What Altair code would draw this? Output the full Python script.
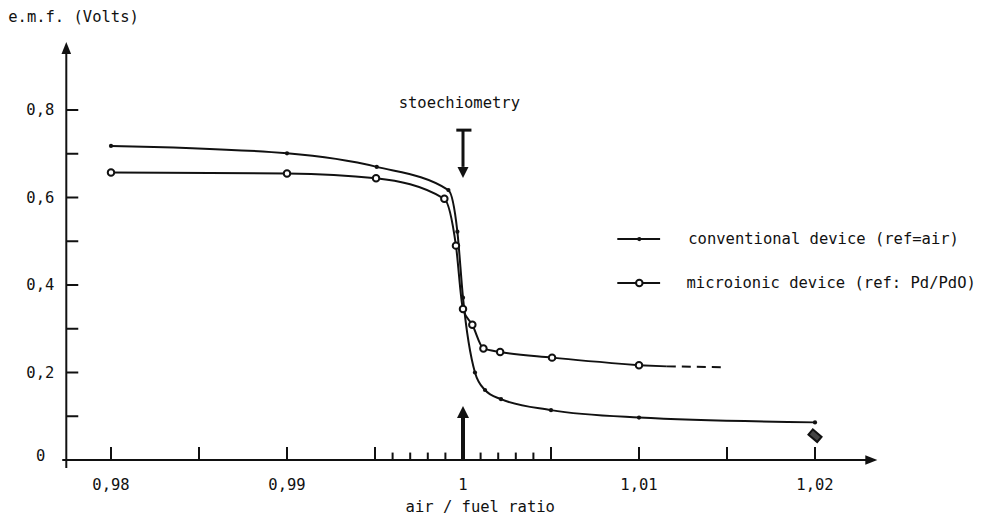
import altair as alt
import pandas as pd

# ---- data ----
conv_x = [0.98, 0.99, 0.9951, 0.99917, 0.99968, 1.0, 1.00068, 1.00125, 1.00216, 1.005, 1.01, 1.02]
conv_y = [0.718, 0.701, 0.670, 0.617, 0.522, 0.371, 0.200, 0.160, 0.139, 0.114, 0.097, 0.086]

micro_x = [0.98, 0.99, 0.99506, 0.99894, 0.9996, 1.0, 1.00053, 1.00116, 1.00211, 1.00506, 1.01]
micro_y = [0.657, 0.655, 0.644, 0.597, 0.490, 0.345, 0.309, 0.255, 0.247, 0.234, 0.2165]

# extrapolated (solid then dashed) tail of the microionic curve
ext_solid_x = [1.01, 1.01158]
ext_solid_y = [0.2165, 0.214]
ext_dash_x = [1.01158, 1.01485]
ext_dash_y = [0.214, 0.2119]

# odd marker under the last conventional point
odd_x = [1.02]
odd_y = [0.0555]

x_major = [0.98, 0.985, 0.99, 0.995, 1.0, 1.005, 1.01, 1.015, 1.02]
x_minor = [0.996, 0.997, 0.998, 0.999, 1.001, 1.002, 1.003, 1.004]
x_label_vals = [0.98, 0.99, 1.0, 1.01, 1.02]
x_label_text = ["0,98", "0,99", "1", "1,01", "1,02"]
y_ticks = [0.1, 0.2, 0.3, 0.4, 0.5, 0.6, 0.7, 0.8]
y_label_vals = [0.2, 0.4, 0.6, 0.8]
y_label_text = ["0,2", "0,4", "0,6", "0,8"]

legend_labels = ["conventional device (ref=air)", "microionic device (ref: Pd/PdO)"]

INK = "#111111"
FONT = "DejaVu Sans Mono"
FS = 15.5

XS = alt.Scale(domain=[0.975, 1.025], nice=False, zero=False)
YS = alt.Scale(domain=[-0.128, 1.0], nice=False, zero=False)


def X(f="x"):
    return alt.X(f"{f}:Q", scale=XS, axis=None)


def Y(f="y"):
    return alt.Y(f"{f}:Q", scale=YS, axis=None)


conv = pd.DataFrame({"x": conv_x, "y": conv_y})
micro = pd.DataFrame({"x": micro_x, "y": micro_y})

conv_line = alt.Chart(conv).mark_line(interpolate="monotone", color=INK, strokeWidth=2).encode(x=X(), y=Y())
conv_pts = alt.Chart(conv).mark_point(filled=True, color=INK, size=18, opacity=1).encode(x=X(), y=Y())
micro_line = alt.Chart(micro).mark_line(interpolate="monotone", color=INK, strokeWidth=2).encode(x=X(), y=Y())
micro_pts = alt.Chart(micro).mark_point(
    shape="circle", filled=True, fill="white", stroke=INK, strokeWidth=2, size=42, opacity=1
).encode(x=X(), y=Y())

ext_solid = alt.Chart(pd.DataFrame({"x": ext_solid_x, "y": ext_solid_y})).mark_line(
    color=INK, strokeWidth=2).encode(x=X(), y=Y())
ext_dash = alt.Chart(pd.DataFrame({"x": ext_dash_x, "y": ext_dash_y})).mark_line(
    color=INK, strokeWidth=2, strokeDash=[9, 6]).encode(x=X(), y=Y())

odd = alt.Chart(pd.DataFrame({"x": odd_x, "y": odd_y})).mark_point(
    shape="M-1,-0.6L1,-0.6L1,0.6L-1,0.6Z", angle=40, filled=True, fill="#444", stroke=INK,
    strokeWidth=2, size=130, opacity=1).encode(x=X(), y=Y())

# ---- axes drawn by hand ----
rules = pd.DataFrame({
    "x":  [0.97746, 0.97723, 0.99962, 1.0, 1.0],
    "x2": [0.97746, 1.02291, 1.00048, 1.0, 1.0],
    "y":  [-0.018, 0.0, 0.754, 0.754, 0.0],
    "y2": [0.928, 0.0, 0.754, 0.670, 0.100],
    "w":  [2, 2, 3, 3, 4],
})
axis_rules = alt.Chart(rules).mark_rule(color=INK).encode(
    x=X(), x2="x2:Q", y=Y(), y2="y2:Q", strokeWidth=alt.StrokeWidth("w:Q", scale=None))

heads = pd.DataFrame({
    "x": [0.97746, 1.02320, 1.0, 1.0],
    "y": [0.9417, 0.0, 0.6571, 0.1097],
    "shape": ["M-0.8,1L0,-1L0.8,1Z", "M-1,-0.8L1,0L-1,0.8Z", "M-1,-1L1,-1L0,1Z", "M-1,1L0,-1L1,1Z"],
    "size": [144, 144, 121, 144],
})
arrow_heads = alt.Chart(heads).mark_point(filled=True, color=INK, opacity=1, strokeWidth=0).encode(
    x=X(), y=Y(), shape=alt.Shape("shape:N", scale=None), size=alt.Size("size:Q", scale=None))

xt = pd.DataFrame({"x": x_major + x_minor,
                   "y": [0.0] * (len(x_major) + len(x_minor)),
                   "y2": [0.03] * len(x_major) + [0.017] * len(x_minor)})
x_ticks = alt.Chart(xt).mark_rule(color=INK, strokeWidth=2).encode(x=X(), y=Y(), y2="y2:Q")

yt = pd.DataFrame({"x": [0.97746] * len(y_ticks), "x2": [0.97814] * len(y_ticks), "y": y_ticks})
y_tick_marks = alt.Chart(yt).mark_rule(color=INK, strokeWidth=2).encode(x=X(), x2="x2:Q", y=Y())

xl = pd.DataFrame({"x": x_label_vals, "y": [-0.0571] * len(x_label_vals), "t": x_label_text})
x_labels = alt.Chart(xl).mark_text(font=FONT, fontSize=FS, color=INK, align="center", baseline="middle").encode(
    x=X(), y=Y(), text="t:N")

yl = pd.DataFrame({"x": [0.97678] * len(y_label_vals) + [0.97627],
                   "y": y_label_vals + [0.01], "t": y_label_text + ["0"]})
y_labels = alt.Chart(yl).mark_text(font=FONT, fontSize=FS, color=INK, align="right", baseline="middle").encode(
    x=X(), y=Y(), text="t:N")

# ---- titles / annotations ----
notes = pd.DataFrame({
    "x": [0.97416, 0.99979, 1.00098],
    "y": [1.0126, 0.816, -0.1074],
    "t": ["e.m.f. (Volts)", "stoechiometry", "air / fuel ratio"],
})
note_left = alt.Chart(notes.iloc[[0]]).mark_text(font=FONT, fontSize=FS, color=INK, align="left",
                                                 baseline="middle").encode(x=X(), y=Y(), text="t:N")
note_center = alt.Chart(notes.iloc[1:]).mark_text(font=FONT, fontSize=FS, color=INK, align="center",
                                                  baseline="middle").encode(x=X(), y=Y(), text="t:N")

# ---- legend drawn by hand ----
leg_lines = pd.DataFrame({"x": [1.008767, 1.008767], "x2": [1.011199, 1.011199], "y": [0.505, 0.4046]})
legend_lines = alt.Chart(leg_lines).mark_rule(color=INK, strokeWidth=2).encode(x=X(), x2="x2:Q", y=Y())
legend_dot = alt.Chart(pd.DataFrame({"x": [1.010017], "y": [0.505]})).mark_point(
    filled=True, color=INK, size=18, opacity=1).encode(x=X(), y=Y())
legend_circ = alt.Chart(pd.DataFrame({"x": [1.010017], "y": [0.4046]})).mark_point(
    shape="circle", filled=True, fill="white", stroke=INK, strokeWidth=2, size=42, opacity=1).encode(x=X(), y=Y())
leg_text = pd.DataFrame({"x": [1.0128, 1.0127], "y": [0.505, 0.4046], "t": legend_labels})
legend_text = alt.Chart(leg_text).mark_text(font=FONT, fontSize=FS, color=INK, align="left",
                                            baseline="middle").encode(x=X(), y=Y(), text="t:N")

chart = alt.layer(
    axis_rules, arrow_heads, x_ticks, y_tick_marks, x_labels, y_labels,
    conv_line, micro_line, ext_solid, ext_dash, conv_pts, micro_pts, odd,
    note_left, note_center, legend_lines, legend_dot, legend_circ, legend_text,
).properties(
    width=880, height=493.5,
    autosize=alt.AutoSizeParams(type="none"),
    padding={"left": 15, "top": 14.5, "right": 72, "bottom": 0},
    background="white",
).configure_view(stroke=None)

chart.save("out.html", embed_options={"renderer": "svg", "actions": False})
